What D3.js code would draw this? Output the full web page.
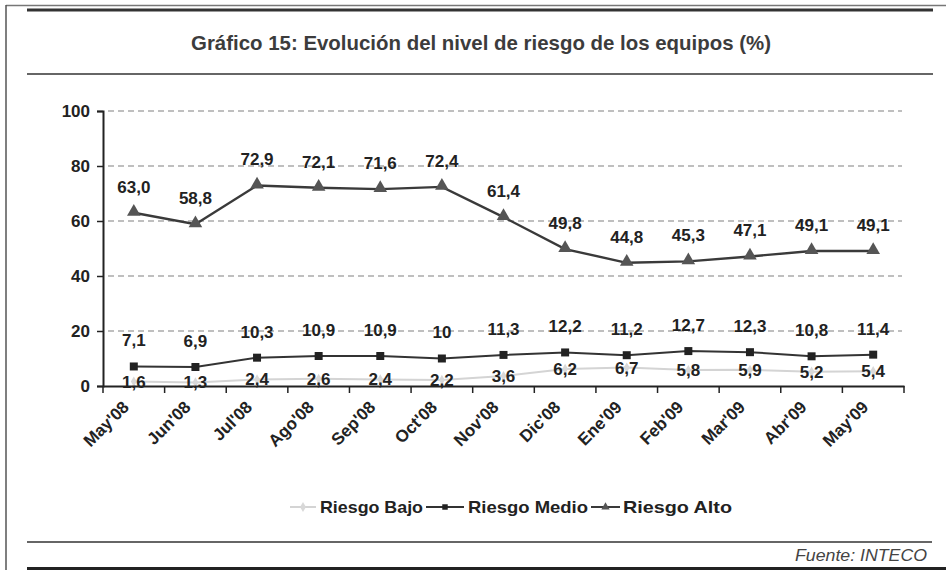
<!DOCTYPE html>
<html>
<head>
<meta charset="utf-8">
<script src="https://cdn.jsdelivr.net/npm/d3@7"></script>
<style>
  body { margin: 0; background: #fff; }
  text { font-family: "Liberation Sans", Arial, sans-serif; }
</style>
</head>
<body>
<svg width="946" height="570"></svg>
<script>
var months = ["May'08","Jun'08","Jul'08","Ago'08","Sep'08","Oct'08","Nov'08","Dic'08","Ene'09","Feb'09","Mar'09","Abr'09","May'09"];
var riesgoBajo  = [1.6, 1.3, 2.4, 2.6, 2.4, 2.2, 3.6, 6.2, 6.7, 5.8, 5.9, 5.2, 5.4];
var riesgoMedio = [7.1, 6.9, 10.3, 10.9, 10.9, 10, 11.3, 12.2, 11.2, 12.7, 12.3, 10.8, 11.4];
var riesgoAlto  = [63.0, 58.8, 72.9, 72.1, 71.6, 72.4, 61.4, 49.8, 44.8, 45.3, 47.1, 49.1, 49.1];
var labelsBajo  = ["1,6","1,3","2,4","2,6","2,4","2,2","3,6","6,2","6,7","5,8","5,9","5,2","5,4"];
var labelsMedio = ["7,1","6,9","10,3","10,9","10,9","10","11,3","12,2","11,2","12,7","12,3","10,8","11,4"];
var labelsAlto  = ["63,0","58,8","72,9","72,1","71,6","72,4","61,4","49,8","44,8","45,3","47,1","49,1","49,1"];
var yTicks = [0, 20, 40, 60, 80, 100];

var svg = d3.select("svg");

// marco
svg.append("line").attr("x1", 6).attr("x2", 946).attr("y1", 5.5).attr("y2", 5.5)
  .attr("stroke", "#777").attr("stroke-width", 1.5);
svg.append("line").attr("x1", 6).attr("x2", 6).attr("y1", 5).attr("y2", 570)
  .attr("stroke", "#555").attr("stroke-width", 1.5);
svg.append("line").attr("x1", 27).attr("x2", 933).attr("y1", 10).attr("y2", 10)
  .attr("stroke", "#333").attr("stroke-width", 3);
svg.append("line").attr("x1", 27).attr("x2", 933).attr("y1", 74).attr("y2", 74)
  .attr("stroke", "#666").attr("stroke-width", 2);
svg.append("line").attr("x1", 27).attr("x2", 932).attr("y1", 542).attr("y2", 542)
  .attr("stroke", "#666").attr("stroke-width", 2);
svg.append("line").attr("x1", 27).attr("x2", 946).attr("y1", 568.5).attr("y2", 568.5)
  .attr("stroke", "#222").attr("stroke-width", 3);

svg.append("text").attr("x", 191).attr("y", 50)
  .attr("font-size", 21).attr("font-weight", "bold").attr("fill", "#3c3c3c")
  .attr("textLength", 580).attr("lengthAdjust", "spacingAndGlyphs")
  .text("Gráfico 15: Evolución del nivel de riesgo de los equipos (%)");

svg.append("text").attr("x", 795).attr("y", 561)
  .attr("font-size", 17).attr("font-style", "italic").attr("fill", "#444")
  .attr("textLength", 132).attr("lengthAdjust", "spacingAndGlyphs")
  .text("Fuente: INTECO");

// escalas
var x = d3.scaleBand().domain(months).range([103, 904]);
var y = d3.scaleLinear().domain([0, 100]).range([386, 111]);
var cx = function(d, i) { return x(months[i]) + x.bandwidth() / 2; };

// rejilla
svg.append("g").selectAll("line").data(yTicks.filter(function(t) { return t > 0; }))
  .enter().append("line")
    .attr("x1", 108).attr("x2", 902)
    .attr("y1", function(d) { return y(d); }).attr("y2", function(d) { return y(d); })
    .attr("stroke", "#aaa").attr("stroke-width", 1.4).attr("stroke-dasharray", "6,4");

// ejes
var yAxis = svg.append("g").attr("transform", "translate(103,0)")
  .call(d3.axisLeft(y).tickValues(yTicks).tickSize(6).tickPadding(7));
var xAxis = svg.append("g").attr("transform", "translate(0,386)")
  .call(d3.axisBottom(x).tickSize(0).tickFormat(""));
xAxis.selectAll(".bound").data(months.concat(["end"])).enter().append("line")
  .attr("x1", function(d, i) { return 103 + i * x.bandwidth(); })
  .attr("x2", function(d, i) { return 103 + i * x.bandwidth(); })
  .attr("y1", 0).attr("y2", 7).attr("stroke", "#222").attr("stroke-width", 1.5);

[yAxis, xAxis].forEach(function(a) {
  a.select(".domain").attr("stroke", "#222").attr("stroke-width", 2);
  a.selectAll(".tick line").attr("stroke", "#222").attr("stroke-width", 1.5);
});
yAxis.selectAll(".tick text").attr("font-size", 17).attr("font-weight", "bold").attr("fill", "#222")
  .style("font-family", "'Liberation Sans', Arial, sans-serif");

svg.append("g").selectAll("text").data(months).enter().append("text")
  .attr("transform", function(d, i) { return "translate(" + (cx(d, i) - 8) + ",404) rotate(-45)"; })
  .attr("text-anchor", "end").attr("dy", "0.35em")
  .attr("font-size", 17).attr("font-weight", "bold").attr("fill", "#222")
  .text(function(d) { return d; });

var line = d3.line().x(cx).y(function(d) { return y(d); });

function drawSeries(vals, color, width) {
  svg.append("path").datum(vals).attr("d", line)
    .attr("fill", "none").attr("stroke", color).attr("stroke-width", width);
}
drawSeries(riesgoBajo, "#d4d4d4", 2);
drawSeries(riesgoMedio, "#333", 2);
drawSeries(riesgoAlto, "#3a3a3a", 2.4);

var diamond = d3.symbol().type(d3.symbolDiamond).size(30);
var square = d3.symbol().type(d3.symbolSquare).size(64);
var triangle = d3.symbol().type(d3.symbolTriangle).size(80);

svg.append("g").selectAll("path").data(riesgoBajo).enter().append("path")
  .attr("d", diamond).attr("fill", "#d8d8d8")
  .attr("transform", function(d, i) { return "translate(" + cx(d, i) + "," + y(d) + ")"; });
svg.append("g").selectAll("path").data(riesgoMedio).enter().append("path")
  .attr("d", square).attr("fill", "#222")
  .attr("transform", function(d, i) { return "translate(" + cx(d, i) + "," + y(d) + ")"; });
svg.append("g").selectAll("path").data(riesgoAlto).enter().append("path")
  .attr("d", triangle).attr("fill", "#555")
  .attr("transform", function(d, i) { return "translate(" + cx(d, i) + "," + (y(d) - 1) + ")"; });

function drawLabels(vals, labels, dy) {
  svg.append("g").selectAll("text").data(vals).enter().append("text")
    .attr("x", cx).attr("y", function(d) { return y(d) + dy; })
    .attr("text-anchor", "middle").attr("dy", "0.35em")
    .attr("font-size", 17).attr("font-weight", "bold").attr("fill", "#222")
    .text(function(d, i) { return labels[i]; });
}
drawLabels(riesgoBajo, labelsBajo, 0);
drawLabels(riesgoMedio, labelsMedio, -26);
drawLabels(riesgoAlto, labelsAlto, -26);

// leyenda
var legend = [
  { name: "Riesgo Bajo", color: "#d4d4d4", sym: diamond, fill: "#d8d8d8", x1: 290, x2: 316, tx: 320, w: 103 },
  { name: "Riesgo Medio", color: "#333", sym: square, fill: "#222", x1: 426, x2: 464, tx: 468, w: 120 },
  { name: "Riesgo Alto", color: "#3a3a3a", sym: triangle, fill: "#555", x1: 591, x2: 620, tx: 623, w: 109 }
];
var lg = svg.append("g").attr("transform", "translate(0,507)")
  .selectAll("g").data(legend).enter().append("g");
lg.append("line").attr("x1", function(d) { return d.x1; }).attr("x2", function(d) { return d.x2; })
  .attr("stroke", function(d) { return d.color; }).attr("stroke-width", 2);
lg.append("path").attr("d", function(d) { return d.sym.size(30)(); }).attr("fill", function(d) { return d.fill; })
  .attr("transform", function(d) { return "translate(" + (d.x1 + d.x2) / 2 + ",0)"; });
lg.append("text").attr("x", function(d) { return d.tx; }).attr("dy", "0.35em")
  .attr("font-size", 17).attr("font-weight", "bold").attr("fill", "#222")
  .attr("textLength", function(d) { return d.w; }).attr("lengthAdjust", "spacingAndGlyphs")
  .text(function(d) { return d.name; });
</script>
</body>
</html>
